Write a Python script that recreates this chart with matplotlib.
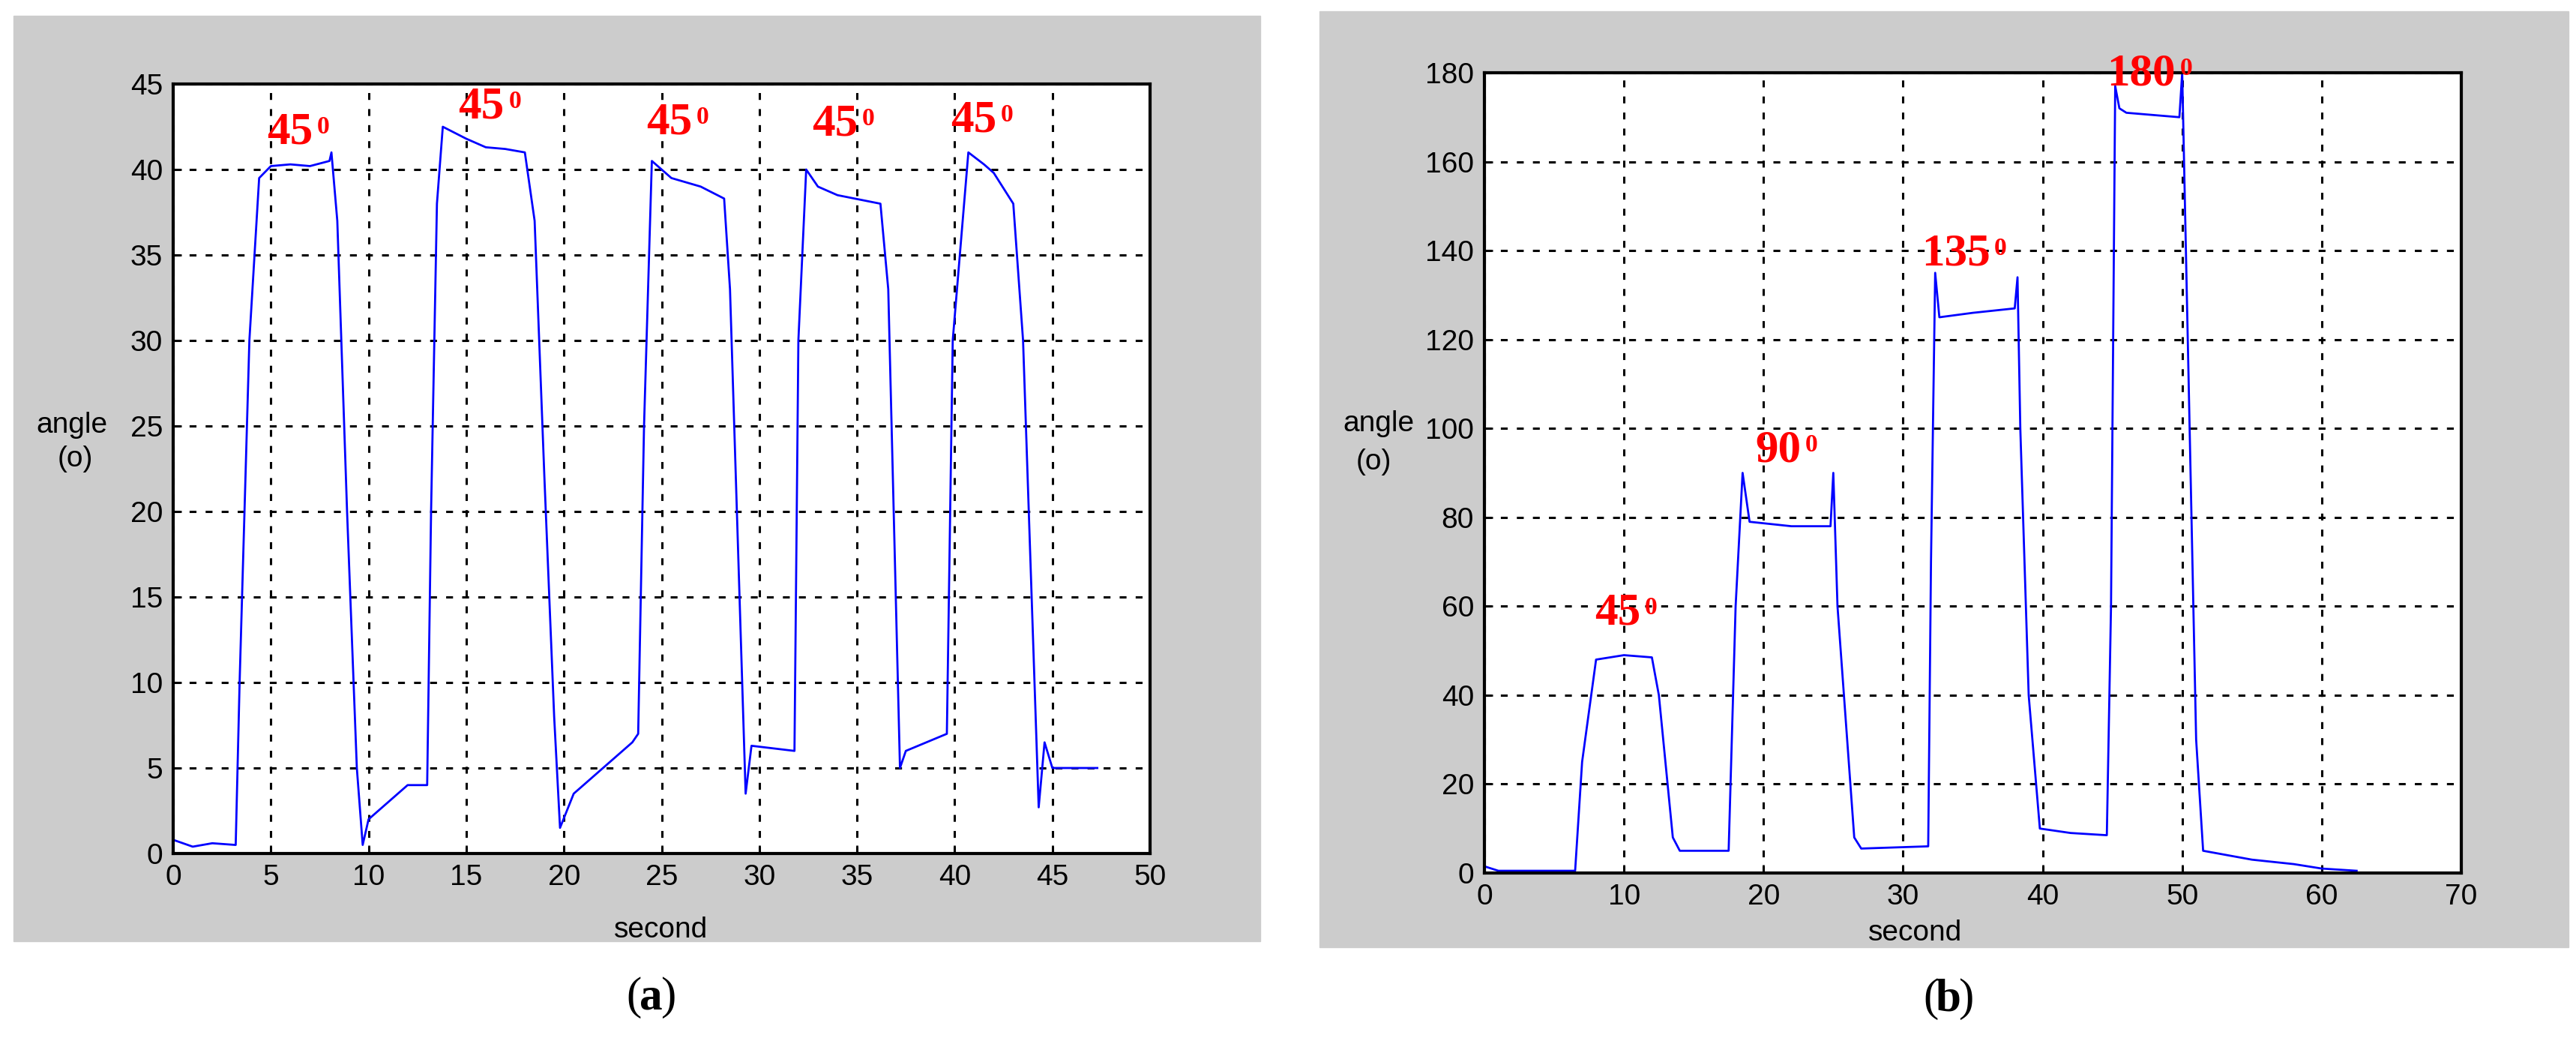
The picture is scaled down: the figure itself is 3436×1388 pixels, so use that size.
import matplotlib
matplotlib.use("Agg")
import matplotlib.pyplot as plt
from matplotlib.patches import Rectangle

# ---- data (a) ----
ta = [0, 1, 2, 3.2, 3.4, 3.9, 4.4, 5, 6, 7, 8, 8.1, 8.4, 8.9, 9.4, 9.7, 10, 11, 12, 13, 13.2, 13.5, 13.8, 15, 16, 17, 18, 18.5, 19, 19.5, 19.8, 20.5, 22, 23.5, 23.8, 24.1, 24.5, 25.5, 27, 28.2, 28.5, 29.3, 29.6, 31.8, 32.0, 32.4, 33, 34, 36.2, 36.6, 37.2, 37.5, 39.6, 39.9, 40.7, 41.5, 42, 43, 43.5, 44.3, 44.6, 45, 46, 47.3]
ya = [0.8, 0.4, 0.6, 0.5, 10, 30, 39.5, 40.2, 40.3, 40.2, 40.5, 41, 37, 20, 5, 0.5, 2, 3, 4, 4, 20, 38, 42.5, 41.8, 41.3, 41.2, 41.0, 37, 22, 8, 1.5, 3.5, 5, 6.5, 7, 25, 40.5, 39.5, 39, 38.3, 33, 3.5, 6.3, 6, 30, 40, 39, 38.5, 38, 33, 5, 6, 7, 30, 41, 40.3, 39.8, 38, 30, 2.7, 6.5, 5, 5, 5]
labels_a_x = [4.8, 14.6, 24.2, 32.7, 39.8]
labels_a_y = [41.5, 43.0, 42.1, 42.0, 42.2]
labels_a = ["45", "45", "45", "45", "45"]

# ---- data (b) ----
tb = [0, 1, 3, 6.5, 7.0, 8.0, 10, 12, 12.5, 13.5, 14, 17.5, 18.0, 18.5, 19.0, 22, 24.8, 25.0, 25.3, 26.5, 27, 31.8, 32.0, 32.3, 32.6, 35, 38.0, 38.2, 38.4, 39.0, 39.8, 42, 44.6, 44.9, 45.2, 45.5, 46, 49.8, 50.0, 50.4, 51.0, 51.5, 55, 58, 60, 62.5]
yb = [1.5, 0.5, 0.5, 0.5, 25, 48, 49, 48.5, 40, 8, 5, 5, 60, 90, 79, 78, 78, 90, 60, 8, 5.5, 6, 70, 135, 125, 126, 127, 134, 100, 40, 10, 9, 8.5, 60, 177, 172, 171, 170, 180, 120, 30, 5, 3, 2, 1, 0.5]
labels_b_x = [7.9, 19.4, 31.3, 44.6]
labels_b_y = [55.9, 92.6, 136.7, 177.3]
labels_b = ["45", "90", "135", "180"]

W, H = 3436, 1388
fig = plt.figure(figsize=(W / 100, H / 100), dpi=100)
fig.patch.set_facecolor("white")

def px(x0, y0, x1, y1):
    return [x0 / W, 1 - y1 / H, (x1 - x0) / W, (y1 - y0) / H]

gray = "#cccccc"
bg = fig.add_axes([0, 0, 1, 1], zorder=-10)
bg.set_xlim(0, W)
bg.set_ylim(H, 0)
bg.axis("off")
bg.add_patch(Rectangle((18, 21), 1681 - 18, 1255 - 21, color=gray))
bg.add_patch(Rectangle((1760, 15), 3426 - 1760, 1263 - 15, color=gray))

plt.rcParams["font.family"] = ["Liberation Sans Narrow", "Liberation Sans"]

def style(ax, xmax, ymax, ystep, xstep):
    ax.set_xlim(0, xmax)
    ax.set_ylim(0, ymax)
    ax.set_xticks(range(0, xmax + 1, xstep))
    ax.set_yticks(range(0, ymax + 1, ystep))
    ax.grid(True, color="black", linestyle=(0, (3, 4)), linewidth=2.2)
    for s in ax.spines.values():
        s.set_linewidth(3)
    ax.tick_params(direction="in", length=8, width=2, labelsize=28, pad=10)
    ax.set_facecolor("white")

def label(ax, x, y, s, size=44):
    t = ax.text(x, y, s, color="red", fontsize=size, fontweight="bold",
                family="Liberation Serif", ha="left", va="baseline", zorder=5)
    ax.annotate("0", xy=(1, 1), xycoords=t, xytext=(4, -4), textcoords="offset points",
                color="red", fontsize=size * 0.55, fontweight="bold", family="Liberation Serif",
                ha="left", va="top", zorder=5, annotation_clip=False)

ax1 = fig.add_axes(px(231, 112, 1534, 1138))
style(ax1, 50, 45, 5, 5)
ax1.plot(ta, ya, color="#0000ff", linewidth=2)
for x, y, s in zip(labels_a_x, labels_a_y, labels_a):
    label(ax1, x, y, s)
fig.text(96 / W, 1 - 567 / H, "angle", ha="center", va="center", fontsize=28)
fig.text(100 / W, 1 - 612 / H, "(o)", ha="center", va="center", fontsize=28)
fig.text(882 / W, 1 - 1240 / H, "second", ha="center", va="center", fontsize=28)

ax2 = fig.add_axes(px(1980, 97, 3283, 1164))
style(ax2, 70, 180, 20, 10)
ax2.plot(tb, yb, color="#0000ff", linewidth=2)
for x, y, s in zip(labels_b_x, labels_b_y, labels_b):
    label(ax2, x, y, s)
fig.text(1839 / W, 1 - 565 / H, "angle", ha="center", va="center", fontsize=28)
fig.text(1832 / W, 1 - 616 / H, "(o)", ha="center", va="center", fontsize=28)
fig.text(2555 / W, 1 - 1244 / H, "second", ha="center", va="center", fontsize=28)

fig.text(845 / W, 1 - 1330 / H, "(", ha="center", va="center", fontsize=44, family="Liberation Serif")
fig.text(868 / W, 1 - 1330 / H, "a", ha="center", va="center", fontsize=44, family="Liberation Serif", fontweight="bold")
fig.text(891 / W, 1 - 1330 / H, ")", ha="center", va="center", fontsize=44, family="Liberation Serif")
fig.text(2576 / W, 1 - 1332 / H, "(", ha="center", va="center", fontsize=44, family="Liberation Serif")
fig.text(2598 / W, 1 - 1332 / H, "b", ha="center", va="center", fontsize=44, family="Liberation Serif", fontweight="bold")
fig.text(2622 / W, 1 - 1332 / H, ")", ha="center", va="center", fontsize=44, family="Liberation Serif")

fig.savefig("out.png", dpi=100)
